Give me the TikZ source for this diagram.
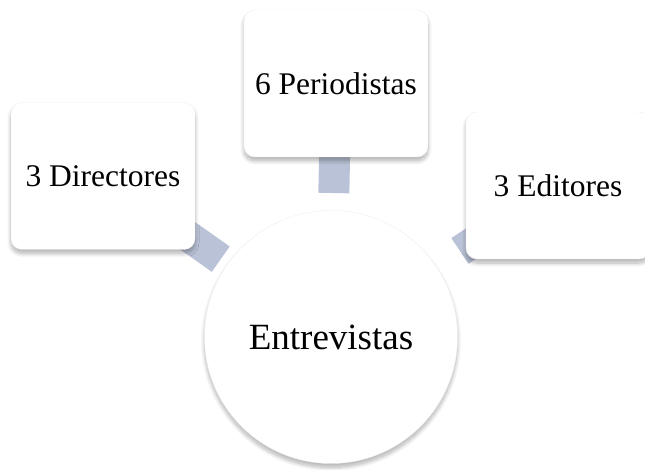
\documentclass[tikz,border=0pt]{standalone}
\usepackage{fontspec}
\setmainfont{Liberation Serif}
\usepackage{tikz}
\usetikzlibrary{backgrounds,shadows.blur}
\definecolor{linkgray}{RGB}{185,194,214}
\tikzset{
  box/.style={draw=black!6, fill=white, rounded corners=11pt, align=center, minimum width=184pt, minimum height=147pt, inner sep=0pt, font=\fontsize{31.5}{36}\selectfont,
    blur shadow={shadow xshift=0pt, shadow yshift=-4pt, shadow blur steps=10, shadow blur radius=4pt, shadow opacity=30}},
  hub/.style={circle, draw=black!6, fill=white, minimum size=253pt, inner sep=0pt, font=\fontsize{37}{42}\selectfont,
    blur shadow={shadow xshift=0pt, shadow yshift=-4pt, shadow blur steps=10, shadow blur radius=4pt, shadow opacity=30}},
  link/.style={draw=linkgray, line width=31pt}
}
\begin{document}
\begin{tikzpicture}[x=1pt, y=-1pt]
  \useasboundingbox (0,0) rectangle (645,470);
  \node[hub] (ent) at (331,337) {Entrevistas};
  \node[box] (dir) at (103,176) {3 Directores};
  \node[box] (per) at (336,83.5) {6 Periodistas};
  \node[box] (edi) at (558,185.5) {3 Editores};
  \begin{scope}[on background layer]
    \draw[link, shorten >=135pt] (dir.center) -- (ent.center);
    \draw[link, shorten >=144pt] (per.center) -- (ent.center);
    \draw[link, shorten >=155pt] (edi.center) -- (ent.center);
  \end{scope}
\end{tikzpicture}
\end{document}
